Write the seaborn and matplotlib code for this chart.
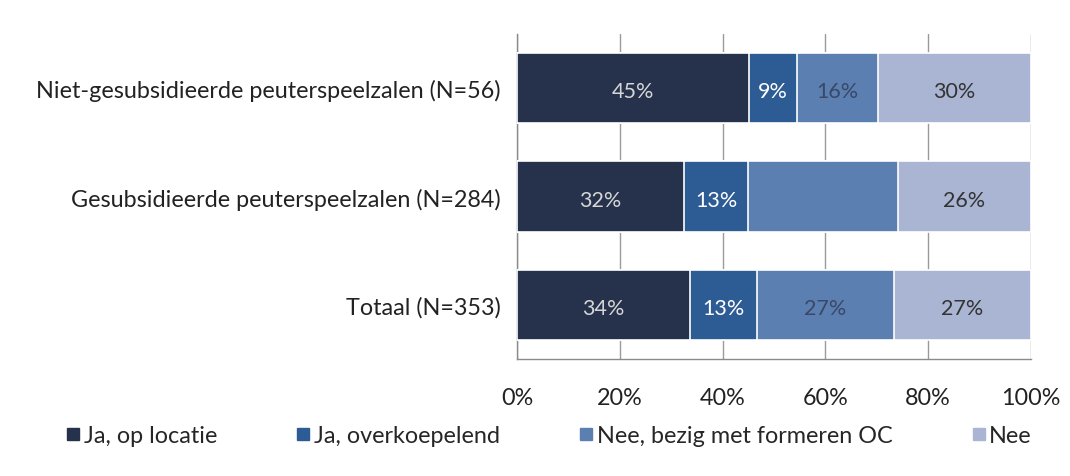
import matplotlib
matplotlib.use("Agg")
import matplotlib.pyplot as plt
from matplotlib.lines import Line2D
import pandas as pd
import seaborn as sns

# data (percentages per row)
groups = ["Niet-gesubsidieerde peuterspeelzalen (N=56)",
          "Gesubsidieerde peuterspeelzalen (N=284)",
          "Totaal (N=353)"]
series = ["Ja, op locatie", "Ja, overkoepelend",
          "Nee, bezig met formeren OC", "Nee"]
ja_locatie = [45.2, 32.4, 33.6]
ja_overkoepelend = [9.2, 12.6, 13.1]
nee_bezig = [15.8, 29.1, 26.6]
nee = [29.8, 25.9, 26.7]
# the middle row's third segment carries no label in the source
show_label = [[True, True, True], [True, True, True],
              [True, False, True], [True, True, True]]
xticks = [0, 20, 40, 60, 80, 100]

colors = ["#26324c", "#2d5c95", "#5b7fb1", "#a9b5d3"]
text_colors = ["#d6d6d6", "#ffffff", "#3a4868", "#333333"]

df = pd.DataFrame({"groep": groups, series[0]: ja_locatie,
                   series[1]: ja_overkoepelend, series[2]: nee_bezig,
                   series[3]: nee})
cum = df[series].cumsum(axis=1)

sns.set_style("white")
plt.rcParams["font.family"] = ["Lato", "DejaVu Sans"]
fs = 16.8

fig = plt.figure(figsize=(10.7, 4.77), dpi=100)
ax = fig.add_axes([0.4832, 0.2453, 0.4804, 0.6813])

# stacked bars: draw cumulative totals from last to first
for i in range(len(series) - 1, -1, -1):
    sns.barplot(x=cum[series[i]], y=df["groep"], color=colors[i], orient="h",
                width=0.65, edgecolor="white", linewidth=1.2, saturation=1,
                ax=ax, zorder=3)

# value labels
for i, s in enumerate(series):
    for j in range(len(groups)):
        if not show_label[i][j]:
            continue
        val = df[s][j]
        xc = cum[s][j] - val / 2
        ax.text(xc, j + 0.03, f"{val:.0f}%", ha="center", va="center",
                fontsize=15.5, color=text_colors[i], zorder=5)

ax.set_xlim(0, 100)
ax.set_ylim(2.5, -0.5)
ax.set_xticks(xticks)
ax.set_xticklabels([f"{t}%" for t in xticks], fontsize=fs, color="#222222")
ax.tick_params(axis="x", length=8, width=1, color="#8a8a8a", pad=12)
ax.tick_params(axis="y", which="major", length=0, labelsize=fs,
               labelcolor="#222222", pad=12)
ax.set_yticks([-0.5, 0.5, 1.5, 2.5], minor=True)
ax.tick_params(axis="y", which="minor", length=6, width=1, color="#8a8a8a")
ax.set_xlabel("")
ax.set_ylabel("")
ax.grid(axis="x", color="#9a9a9a", linewidth=1, zorder=0)
sns.despine(ax=ax, top=True, right=True)
for side in ["left", "bottom"]:
    ax.spines[side].set_color("#8a8a8a")
    ax.spines[side].set_linewidth(1)

handles = [Line2D([], [], marker="s", linestyle="", markersize=8,
                  color=c, label=s) for c, s in zip(colors, series)]
fig.legend(handles=handles, loc="center", bbox_to_anchor=(0.512, 0.085),
           ncol=4, frameon=False, fontsize=fs, handletextpad=0.05,
           columnspacing=3.3, handlelength=0.8)

fig.savefig("out.png", dpi=100)
